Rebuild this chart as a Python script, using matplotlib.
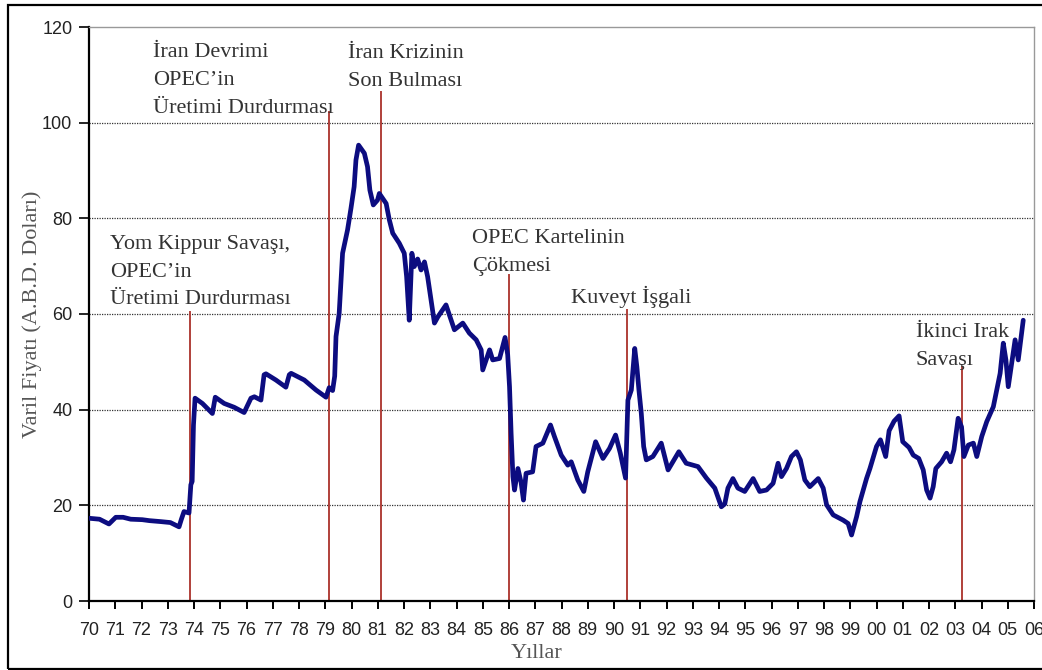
import matplotlib
matplotlib.use('Agg')
import matplotlib.pyplot as plt
from matplotlib.patches import Rectangle

# Varil fiyatı (ABD doları), yıl 1900'den itibaren ondalık
years = [70.00, 70.40, 70.76, 71.02, 71.30, 71.59, 72.03, 72.30, 72.73, 73.10,
         73.43, 73.52, 73.62, 73.81, 73.88, 73.93, 73.98, 74.04, 74.32, 74.70,
         74.81, 75.15, 75.53, 75.91, 76.04, 76.17, 76.30, 76.55, 76.67, 76.74,
         77.12, 77.50, 77.63, 77.70, 78.20, 78.65, 79.03, 79.15, 79.28, 79.36,
         79.41, 79.53, 79.60, 79.66, 79.85, 79.98, 80.10, 80.17, 80.27, 80.49,
         80.61, 80.70, 80.83, 80.99, 81.06, 81.32, 81.44, 81.57, 81.82, 82.01,
         82.10, 82.20, 82.30, 82.39, 82.52, 82.65, 82.78, 82.90, 83.03, 83.16,
         83.29, 83.60, 83.92, 84.24, 84.49, 84.75, 84.94, 85.00, 85.26, 85.38,
         85.64, 85.85, 85.95, 86.02, 86.08, 86.15, 86.21, 86.34, 86.46, 86.55,
         86.65, 86.90, 87.03, 87.29, 87.58, 87.73, 87.99, 88.24, 88.37, 88.62,
         88.85, 89.00, 89.30, 89.58, 89.83, 90.06, 90.24, 90.44, 90.53, 90.66,
         90.79, 90.87, 90.95, 91.04, 91.13, 91.23, 91.48, 91.80, 92.06, 92.47,
         92.75, 93.20, 93.52, 93.84, 94.09, 94.22, 94.34, 94.53, 94.72, 94.98,
         95.30, 95.55, 95.81, 96.06, 96.25, 96.38, 96.57, 96.76, 96.95, 97.10,
         97.27, 97.46, 97.78, 97.97, 98.10, 98.35, 98.73, 98.92, 99.05, 99.24,
         99.37, 99.62, 99.75, 100.00, 100.15, 100.35, 100.48, 100.67, 100.86, 101.00,
         101.24, 101.40, 101.61, 101.78, 101.91, 102.04, 102.16, 102.26, 102.48, 102.67,
         102.82, 102.95, 103.11, 103.24, 103.33, 103.50, 103.69, 103.82, 104.01, 104.20,
         104.45, 104.58, 104.71, 104.83, 104.93, 105.02, 105.15, 105.28, 105.40, 105.53,
         105.59]
prices = [17.3, 17.1, 16.1, 17.5, 17.5, 17.1, 17.0, 16.8, 16.6, 16.4,
          15.5, 17.1, 18.7, 18.4, 24.3, 25.0, 36.8, 42.4, 41.3, 39.2,
          42.6, 41.3, 40.5, 39.4, 40.9, 42.4, 42.7, 42.0, 47.3, 47.5,
          46.2, 44.7, 47.3, 47.6, 46.2, 44.1, 42.6, 44.6, 44.0, 47.0,
          55.3, 60.1, 67.1, 72.7, 77.6, 82.1, 86.6, 92.2, 95.3, 93.6,
          90.8, 85.9, 82.8, 83.8, 85.2, 83.1, 79.7, 76.9, 74.8, 72.7,
          67.8, 58.7, 72.7, 69.9, 71.5, 69.2, 70.9, 67.8, 62.9, 58.1,
          59.4, 61.9, 56.7, 58.1, 56.0, 54.6, 52.5, 48.3, 52.5, 50.4,
          50.7, 55.1, 51.5, 44.8, 35.1, 26.0, 23.2, 27.7, 24.8, 21.1,
          26.7, 27.0, 32.3, 33.0, 36.8, 34.4, 30.5, 28.4, 29.1, 25.3,
          22.9, 27.0, 33.3, 29.8, 31.9, 34.7, 30.9, 25.7, 42.0, 44.1,
          52.8, 49.0, 44.1, 39.2, 32.3, 29.5, 30.2, 33.0, 27.4, 31.2,
          28.8, 28.1, 25.7, 23.6, 19.7, 20.3, 23.6, 25.6, 23.6, 22.9,
          25.6, 22.9, 23.2, 24.6, 28.8, 26.0, 27.7, 30.2, 31.2, 29.5,
          25.3, 23.9, 25.6, 23.6, 20.1, 18.0, 16.9, 16.2, 13.8, 17.6,
          20.8, 25.6, 27.7, 32.3, 33.7, 30.2, 35.6, 37.6, 38.7, 33.3,
          32.1, 30.5, 29.8, 27.4, 23.2, 21.5, 23.9, 27.7, 29.1, 30.9,
          29.1, 31.6, 38.2, 36.4, 30.2, 32.6, 33.0, 30.2, 34.4, 37.5,
          40.6, 44.1, 47.6, 53.9, 50.4, 44.8, 49.7, 54.6, 50.4, 56.0,
          58.7]

# olay çizgileri: yıl, çizginin üst ucu
event_x = [73.85, 79.14, 81.12, 86.00, 90.51, 103.26]
event_top = [60.5, 102.2, 106.4, 68.2, 60.8, 48.9]

# açıklamalar: sol kenar, ilk satır taban çizgisi, satırlar
notes = [
    (72.44, 113.7, ["İran Devrimi", "OPEC’in", "Üretimi Durdurması"]),
    (79.87, 113.5, ["İran Krizinin", "Son Bulması"]),
    (70.80, 73.6, ["Yom Kippur Savaşı,", "OPEC’in", "Üretimi Durdurması"]),
    (84.59, 74.85, ["OPEC Kartelinin", "Çökmesi"]),
    (88.35, 62.3, ["Kuveyt İşgali"]),
    (101.50, 55.2, ["İkinci Irak", "Savaşı"]),
]
line_step = 5.8

tick_years = list(range(70, 107))
tick_labels = ['%02d' % (y % 100) for y in tick_years]

fig = plt.figure(figsize=(10.42, 6.70), dpi=100)
ax = fig.add_axes([89 / 1042, 69 / 670, 945 / 1042, 574 / 670])

ax.set_xlim(70, 106)
ax.set_ylim(0, 120)
ax.set_yticks([0, 20, 40, 60, 80, 100, 120])
ax.set_xticks(tick_years)
ax.set_xticklabels(tick_labels)

for v in [20, 40, 60, 80, 100]:
    ax.axhline(v, color='#333333', lw=0.9, ls=(0, (1, 1)), zorder=1)

for x, top in zip(event_x, event_top):
    ax.plot([x, x], [0, top], color='#b0403a', lw=1.4, zorder=2)

ax.plot(years, prices, color='#0c0c80', lw=3.4, solid_joinstyle='round',
        solid_capstyle='round', zorder=3)

for x, y, lines in notes:
    for i, s in enumerate(lines):
        ax.text(x, y - i * line_step, s, family='Liberation Serif', fontsize=16,
                color='#333333', ha='left', va='baseline', zorder=4)

for side in ['top', 'right']:
    ax.spines[side].set_color('#999999')
    ax.spines[side].set_linewidth(1.0)
for side in ['left', 'bottom']:
    ax.spines[side].set_color('black')
    ax.spines[side].set_linewidth(1.6)

ax.tick_params(axis='y', direction='out', length=7, width=1.2, pad=5,
               labelsize=13, labelcolor='#222222')
ax.tick_params(axis='x', direction='out', length=6, width=1.4, pad=9,
               labelsize=13, labelcolor='#222222')
for lab in ax.get_xticklabels() + ax.get_yticklabels():
    lab.set_family('Liberation Sans')

ax.set_ylabel('Varil Fiyatı (A.B.D. Doları)', family='Liberation Serif',
              fontsize=16, color='#555555')
ax.yaxis.set_label_coords(-47 / 945, 0.5)
ax.set_xlabel('Yıllar', family='Liberation Serif', fontsize=16, color='#555555')
ax.xaxis.set_label_coords(0.474, -43 / 574)

fig.add_artist(Rectangle((8 / 1042, 1 / 670), 1.2, 664 / 670, transform=fig.transFigure,
                         fill=False, edgecolor='black', lw=1.6))

fig.savefig('out.png', dpi=100)
